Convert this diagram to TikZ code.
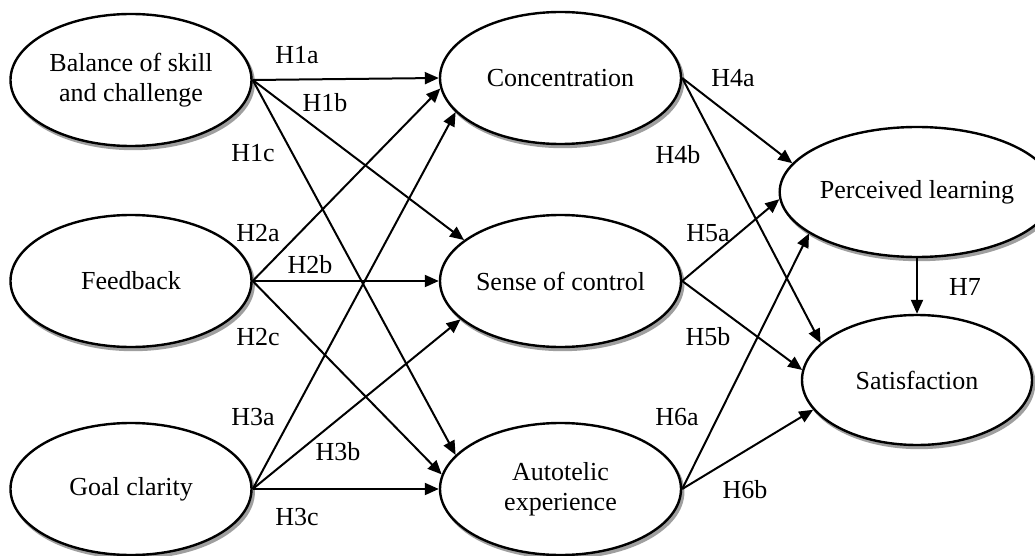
\documentclass[tikz,border=0pt]{standalone}
\usepackage{fontspec}
\setmainfont{Liberation Serif}
\usetikzlibrary{shapes.geometric,arrows.meta}
\begin{document}
\begin{tikzpicture}[x=1pt,y=-1pt,
  every node/.style={font=\fontsize{26}{30}\selectfont},
  construct/.style={ellipse,draw,line width=2.4pt,fill=white,inner sep=0pt,
    minimum width=241pt,minimum height=132pt,align=center,
    preaction={draw=gray!75,fill=gray!75,transform canvas={xshift=2.2pt,yshift=-3pt}}},
  outcome/.style={construct,minimum width=230pt,minimum height=130pt},
  path/.style={line width=2pt,-{Triangle[length=14pt,width=12pt]}},
  hlabel/.style={inner sep=0pt}]
\useasboundingbox (0,0) rectangle (1035,556);
% constructs
\node[construct] (bal) at (131,80) {Balance of skill\\and challenge};
\node[construct] (fb) at (131,281) {Feedback};
\node[construct] (gc) at (131,489) {Goal clarity};
\node[construct] (con) at (560.5,78) {Concentration};
\node[construct] (soc) at (560.5,281) {Sense of control};
\node[construct] (aut) at (560.5,489) {Autotelic\\experience};
\node[outcome] (pl) at (917,192) {Perceived learning};
\node[outcome] (sat) at (917,380) {Satisfaction};
% paths
\draw[path] (bal.east) -- (con.180);
\draw[path] (bal.east) -- (soc.157);
\draw[path] (bal.east) -- (aut.162);
\draw[path] (fb.east) -- (con.185);
\draw[path] (fb.east) -- (soc.180);
\draw[path] (fb.east) -- (aut.173);
\draw[path] (gc.east) -- (con.198);
\draw[path] (gc.east) -- (soc.201);
\draw[path] (gc.east) -- (aut.180);
\draw[path] (con.east) -- (pl.167);
\draw[path] (con.east) -- (sat.159);
\draw[path] (soc.east) -- (pl.183);
\draw[path] (soc.east) -- (sat.175);
\draw[path] (aut.east) -- (pl.201);
\draw[path] (aut.east) -- (sat.196);
\draw[path] (pl.south) -- (sat.north);
% labels
\node[hlabel] (l1a) at (297,55) {H1a};
\node[hlabel] (l1b) at (325,103) {H1b};
\node[hlabel] (l1c) at (253,153) {H1c};
\node[hlabel] (l2a) at (258,233) {H2a};
\node[hlabel] (l2b) at (310,265) {H2b};
\node[hlabel] (l2c) at (258,337) {H2c};
\node[hlabel] (l3a) at (253,417) {H3a};
\node[hlabel] (l3b) at (338,452) {H3b};
\node[hlabel] (l3c) at (297,517) {H3c};
\node[hlabel] (l4a) at (733,78) {H4a};
\node[hlabel] (l4b) at (678,155) {H4b};
\node[hlabel] (l5a) at (708,233) {H5a};
\node[hlabel] (l5b) at (708,337) {H5b};
\node[hlabel] (l6a) at (677,417) {H6a};
\node[hlabel] (l6b) at (745,490) {H6b};
\node[hlabel] (l7) at (965,287) {H7};
\end{tikzpicture}
\end{document}
